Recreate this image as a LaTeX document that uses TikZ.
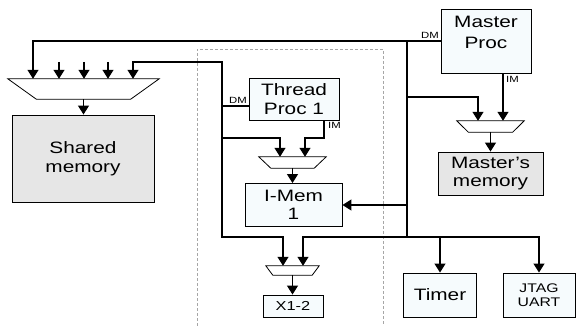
\documentclass[tikz,border=0pt]{standalone}
\usepackage{fontspec}
\setmainfont{Liberation Sans}[FakeStretch=1.26]
\usetikzlibrary{arrows.meta}
\definecolor{boxfill}{RGB}{246,251,253}
\definecolor{memfill}{RGB}{230,230,230}
% trapezium outline of a mux node, #2 = inset of the short side
\newcommand{\muxedge}[2]{\draw[line width=0.8pt, fill=white] (#1.north west) -- (#1.north east)
    -- ([xshift=-#2]#1.south east) -- ([xshift=#2]#1.south west) -- cycle;}

\begin{document}
\begin{tikzpicture}[x=1pt, y=-1pt,
    wire/.style={line width=1.2pt},
    arr/.style={wire, -{Triangle[width=11pt,length=9pt]}},
    unit/.style={draw, line width=0.9pt, fill=boxfill, inner sep=0pt, align=center,
        font=\fontsize{16.5}{18.5}\selectfont},
    mem/.style={unit, fill=memfill},
    mux/.style={inner sep=0pt},
    port/.style={font=\fontsize{9}{9}\selectfont, inner sep=1pt},
    frame/.style={draw=gray!70, line width=0.8pt, dash pattern=on 3pt off 2pt},
]
\useasboundingbox (0,0) rectangle (576,326);

% shared side
\node (shmux) [mux, minimum width=151pt, minimum height=20pt] at (83.5,89) {};
\node (shmem) [mem, minimum width=142pt, minimum height=87pt] at (83,158.5) {Shared\\memory};

% thread 1
\draw[frame] (197,326) |- (383,49) -- (383,326);
\node (thread) [unit, minimum width=90pt, minimum height=42pt] at (294,99) {Thread\\Proc 1};
\node (tmux) [mux, minimum width=67pt, minimum height=11pt] at (292.5,162.5) {};
\node (imem) [unit, minimum width=97pt, minimum height=43pt] at (293.5,205) {I-Mem\\1};
\node (bmux) [mux, minimum width=53pt, minimum height=9pt] at (292.5,270.5) {};
\node (xbox) [unit, minimum width=60pt, minimum height=22pt, font=\fontsize{13}{14}\selectfont] at (293,306) {X1-2};

% master
\node (master) [unit, minimum width=90pt, minimum height=64pt] at (486,41) {};
\node (mastertxt) [align=center, anchor=north, inner sep=0pt,
    font=\fontsize{16.5}{21}\selectfont] at (486,16) {Master\\Proc};
\node (mmux) [mux, minimum width=67pt, minimum height=11pt] at (490.5,126.5) {};
\node (mmem) [mem, minimum width=105pt, minimum height=43pt] at (490.5,173.5) {Master’s\\memory};
\node (timer) [unit, minimum width=73pt, minimum height=44pt] at (440,295) {Timer};
\node (jtag) [unit, minimum width=72pt, minimum height=44pt, font=\fontsize{12.5}{13.5}\selectfont] at (539,295) {JTAG\\UART};

\muxedge{shmux}{28.5pt}
\muxedge{tmux}{12pt}
\muxedge{mmux}{11.5pt}
\muxedge{bmux}{7pt}

\node (mdm) [port, anchor=south east] at (440,40) {DM};
\node (mim) [port, anchor=north west] at (505,75) {IM};
\node (tdm) [port, anchor=south east] at (248,105) {DM};
\node (tim) [port, anchor=north west] at (327,121) {IM};

\coordinate (jt) at (222,106);
\coordinate (bt) at (407,41);
\coordinate (bb) at (407,237);

% into shared memory
\draw[arr] (master.west) -| (shmux.north -| 33,0);
\foreach \x in {59,84,108} {
    \coordinate (s\x) at (\x,62);
    \draw[arr] (s\x) -- (shmux.north -| s\x);
}
\draw[arr] (shmux.south) -- (shmux.south |- shmem.north);

% thread ports
\draw[wire] (thread.west |- jt) -- (jt);
\draw[arr] (jt) |- (133,62) -- (shmux.north -| 133,0);
\draw[arr] (jt) |- (280,138) -- (tmux.north -| 280,0);
\draw[arr] (jt) |- (283,237) -- (bmux.north -| 283,0);
\draw[arr] (thread.south -| 324,0) |- (305,138) -- (tmux.north -| 305,0);
\draw[arr] (tmux.south) -- (tmux.south |- imem.north);
\draw[arr] (bmux.south) -- (bmux.south |- xbox.north);

% master bus
\draw[wire] (bt) -- (bb);
\draw[arr] (bt |- imem.east) -- (imem.east);
\draw[arr] (bt |- 0,97) -| (mmux.north -| 478,0);
\draw[arr] (master.south -| 503,0) -- (mmux.north -| 503,0);
\draw[arr] (mmux.south) -- (mmem.north);
\draw[arr] (bb) -| (bmux.north -| 303,0);
\draw[arr] (bb) -| (timer.north);
\draw[arr] (bb) -| (jtag.north);
\end{tikzpicture}
\end{document}
